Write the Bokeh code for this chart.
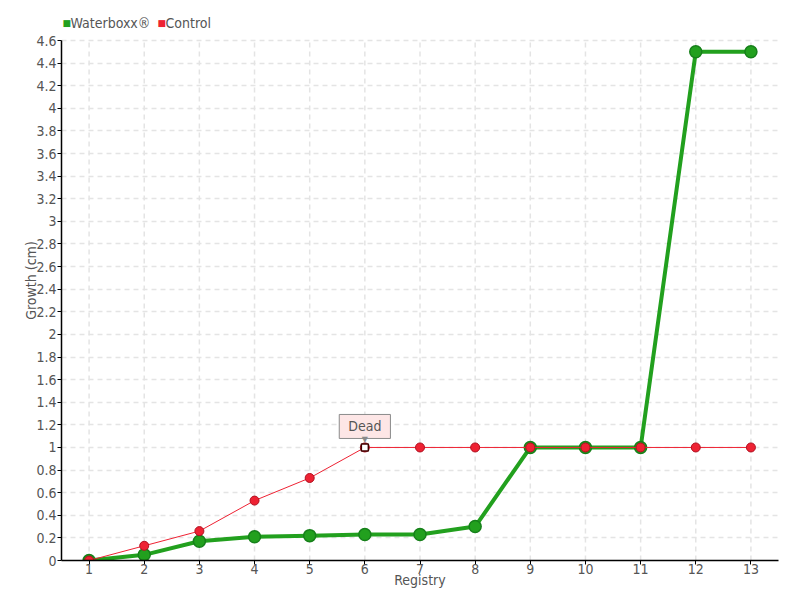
from bokeh.plotting import figure
from bokeh.models import Label, FixedTicker, Range1d
from bokeh.embed import file_html
from bokeh.resources import INLINE

registry = [1, 2, 3, 4, 5, 6, 7, 8, 9, 10, 11, 12, 13]
waterboxx = [0, 0.05, 0.17, 0.21, 0.22, 0.23, 0.23, 0.30, 1.0, 1.0, 1.0, 4.5, 4.5]
control = [0, 0.13, 0.26, 0.53, 0.73, 1.0, 1.0, 1.0, 1.0, 1.0, 1.0, 1.0, 1.0]
dead_x = [6]
dead_y = [1.0]
y_ticks = [round(i * 0.2, 1) for i in range(24)]
series_names = ["Waterboxx\u00ae", "Control"]

FONT = "DejaVu Sans Condensed, Roboto Condensed, Roboto"
TXT = "#555555"
GREEN = "#22a01e"
GREEN_DARK = "#16801a"
RED = "#ee2233"
RED_DARK = "#b01020"
GRID = "#e4e4e4"

# frame spans from canvas top to the x axis; the value axis stops at its last tick,
# leaving room above it for the legend
FRAME_H = 560
AXIS_H = 520
y_top = y_ticks[-1]
y_end = y_top * FRAME_H / AXIS_H

p = figure(width=800, height=600, output_backend="svg", toolbar_location=None,
           x_range=Range1d(0.5, 13.5), y_range=Range1d(0, y_end),
           min_border_left=61, min_border_right=22, min_border_top=0, min_border_bottom=40)
p.outline_line_color = None
p.background_fill_color = "white"

for ax in (p.xaxis[0], p.yaxis[0]):
    ax.axis_line_color = "black"
    ax.axis_line_width = 1.5
    ax.major_tick_line_color = "black"
    ax.major_tick_in = 0
    ax.major_tick_out = 4
    ax.minor_tick_line_color = None
    ax.major_label_text_font = FONT
    ax.major_label_text_font_size = "14px"
    ax.major_label_text_color = TXT
    ax.axis_label_text_font = FONT
    ax.axis_label_text_font_size = "14px"
    ax.axis_label_text_color = TXT
    ax.axis_label_text_font_style = "normal"

p.xaxis.major_label_standoff = -1
p.xaxis.axis_label_standoff = -5
p.yaxis.major_label_standoff = 1
p.yaxis.axis_label_standoff = -6
p.yaxis.bounds = (0, y_top)

p.xaxis.ticker = FixedTicker(ticks=registry)
p.xaxis.axis_label = "Registry"
p.yaxis.ticker = FixedTicker(ticks=y_ticks)
p.yaxis.major_label_overrides = {t: f"{t:g}" for t in y_ticks}
p.yaxis.axis_label = "Growth (cm)"

p.xgrid.grid_line_color = None
p.ygrid.grid_line_color = GRID
p.ygrid.grid_line_dash = "5 4"
p.ygrid.grid_line_width = 1.5

# vertical grid lines stopping at the top tick
p.segment(x0=registry, y0=[0] * len(registry), x1=registry, y1=[y_top] * len(registry),
          line_color=GRID, line_dash="5 4", line_width=1.5, level="underlay")

p.line(registry, waterboxx, line_color=GREEN, line_width=4)
p.scatter(registry, waterboxx, size=12, fill_color=GREEN, line_color=GREEN_DARK, line_width=1.5)
p.line(registry, control, line_color=RED, line_width=1)
p.scatter(registry, control, size=9, fill_color=RED, line_color=RED_DARK, line_width=1)
p.scatter(dead_x, dead_y, marker="square", size=7, fill_color="white", line_color="#400000", line_width=1.5)

# legend as labels above the top tick
legend_items = [(series_names[0], GREEN, 1), (series_names[1], RED, 96)]
for name, col, xpos in legend_items:
    p.add_layout(Label(x=xpos, y=y_top, x_units="screen", y_units="data", y_offset=18,
                       text="\u25a0", text_font="DejaVu Sans", text_font_size="9px",
                       text_color=col, text_baseline="middle", text_align="left"))
    p.add_layout(Label(x=xpos + 8, y=y_top, x_units="screen", y_units="data", y_offset=18,
                       text=name, text_font=FONT, text_font_size="14px", text_color=TXT,
                       text_baseline="middle", text_align="left"))

dead = Label(x=dead_x[0], y=dead_y[0], text="Dead", x_offset=0, y_offset=9,
             text_align="center", text_baseline="bottom",
             text_font=FONT, text_font_size="14px", text_color=TXT,
             background_fill_color="#fde6e6", border_line_color="#8a8a8a",
             border_line_width=1, padding=(9, 4))
p.add_layout(dead)
p.add_layout(Label(x=dead_x[0], y=dead_y[0], text="\u25bc", x_offset=0, y_offset=3,
                   text_align="center", text_baseline="bottom",
                   text_font="DejaVu Sans", text_font_size="8px", text_color="#8a8a8a"))

open("out.html", "w").write(file_html(p, INLINE))
